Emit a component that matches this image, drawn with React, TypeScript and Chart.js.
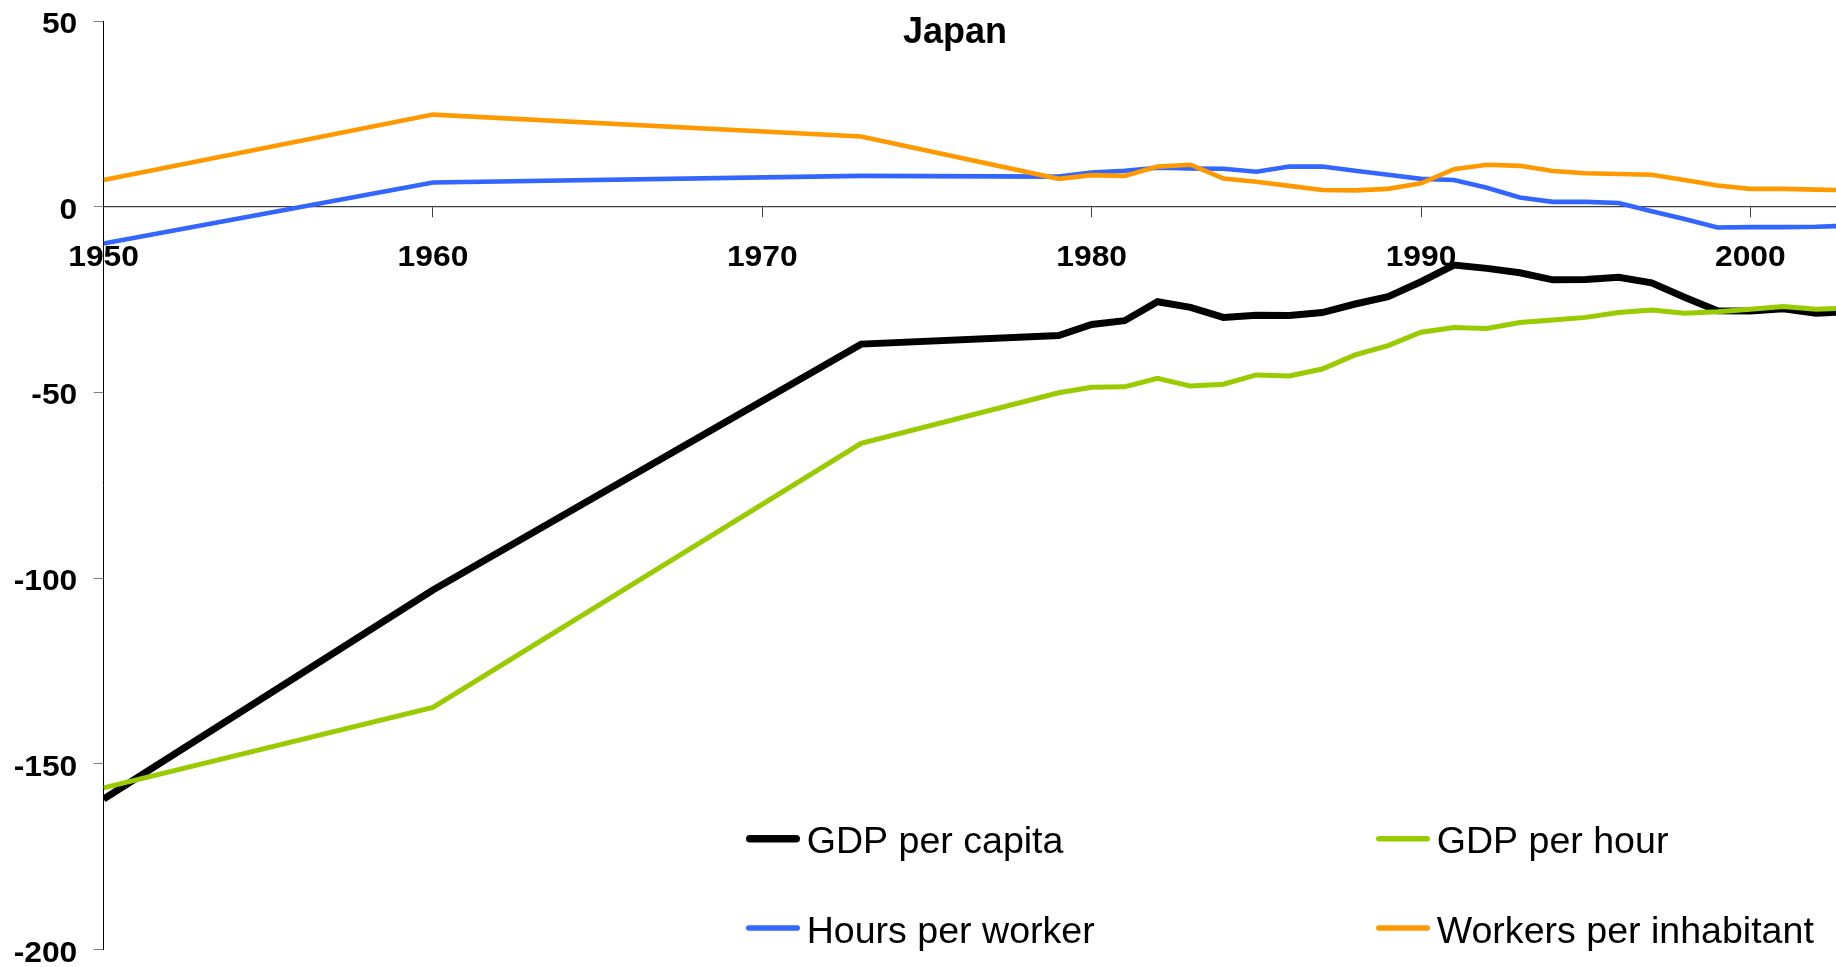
import React, { useEffect, useRef } from "react";
import { Chart, registerables } from "chart.js";

Chart.register(...registerables);

const TITLE = "Japan";

const years = [
  1950, 1960, 1973, 1979, 1980, 1981, 1982, 1983, 1984, 1985, 1986, 1987, 1988, 1989,
  1990, 1991, 1992, 1993, 1994, 1995, 1996, 1997, 1998, 1999, 2000, 2001, 2002, 2003,
];

const gdpPerCapita = [
  -159.5, -103.2, -37.0, -34.7, -31.7, -30.7, -25.6, -27.1, -29.8, -29.2, -29.3, -28.5, -26.2, -24.2,
  -20.2, -15.7, -16.6, -17.8, -19.7, -19.6, -19.0, -20.5, -24.4, -28.0, -28.1, -27.5, -28.7, -28.2,
];

const gdpPerHour = [
  -156.5, -134.8, -63.7, -50.1, -48.6, -48.5, -46.2, -48.3, -47.8, -45.3, -45.6, -43.7, -39.9, -37.4,
  -33.8, -32.5, -32.8, -31.2, -30.5, -29.8, -28.5, -27.8, -28.7, -28.3, -27.6, -26.9, -27.6, -27.3,
];

const hoursPerWorker = [
  -9.9, 6.5, 8.3, 8.1, 9.2, 9.7, 10.5, 10.3, 10.2, 9.4, 10.8, 10.8, 9.7, 8.6,
  7.5, 7.2, 5.1, 2.5, 1.3, 1.3, 1.0, -1.2, -3.3, -5.6, -5.5, -5.5, -5.4, -5.1,
];

const workersPerInhabitant = [
  7.2, 24.8, 18.9, 7.5, 8.5, 8.3, 10.8, 11.3, 7.6, 6.7, 5.6, 4.5, 4.4, 4.8,
  6.3, 10.1, 11.3, 11.0, 9.6, 9.0, 8.8, 8.6, 7.2, 5.7, 4.8, 4.8, 4.6, 4.4,
];

const seriesLabels = ["GDP per capita", "GDP per hour", "Hours per worker", "Workers per inhabitant"];
const seriesColors = ["#000000", "#99CC00", "#3366FF", "#FF9900"];
const seriesWidths = [7, 5, 4.6, 4.6];
const legendMarkerWidths = [7.5, 5.5, 5.5, 5.5];

const xTickYears = [1950, 1960, 1970, 1980, 1990, 2000];
const yTickValues = [50, 0, -50, -100, -150, -200];

const FONT = '"Liberation Sans", Arial, Helvetica, sans-serif';

function stretchedText(ctx: any, text: string, x: number, y: number, sx: number, align: string) {
  ctx.save();
  ctx.translate(x, y);
  ctx.scale(sx, 1);
  ctx.textAlign = align;
  ctx.fillText(text, 0, 0);
  ctx.restore();
}

const overlayPlugin = {
  id: "overlay",
  afterDraw(chart: any) {
    const ctx = chart.ctx;
    const xs = chart.scales.x;
    const ys = chart.scales.y;
    ctx.save();
    ctx.fillStyle = "#000";
    ctx.textBaseline = "alphabetic";

    // title
    ctx.font = `bold 36px ${FONT}`;
    stretchedText(ctx, TITLE, 955, 42.5, 1.0, "center");

    // tick labels
    ctx.font = `bold 30px ${FONT}`;
    const zeroY = ys.getPixelForValue(0);
    xTickYears.forEach((yr) => {
      stretchedText(ctx, String(yr), xs.getPixelForValue(yr), zeroY + 59.5, 1.06, "center");
    });
    yTickValues.forEach((v) => {
      stretchedText(ctx, String(v), 77.3, ys.getPixelForValue(v) + 12, 1.06, "right");
    });

    // legend
    const cols = [747, 1377];
    const rows = [853.3, 942.7];
    ctx.font = `37px ${FONT}`;
    chart.data.datasets.forEach((ds: any, i: number) => {
      const cx = cols[i % 2];
      const by = rows[Math.floor(i / 2)];
      const my = by - 14.6;
      const lw = legendMarkerWidths[i];
      ctx.beginPath();
      ctx.lineCap = "round";
      ctx.strokeStyle = ds.borderColor;
      ctx.lineWidth = lw;
      ctx.moveTo(cx - 1 + lw / 2, my);
      ctx.lineTo(cx + 53 - lw / 2, my);
      ctx.stroke();
      ctx.fillStyle = "#000";
      stretchedText(ctx, ds.label, cx + 59.7, by, 1.015, "left");
    });
    ctx.restore();
  },
};

export default function App() {
  const canvasRef = useRef<HTMLCanvasElement | null>(null);

  useEffect(() => {
    if (!canvasRef.current) return;
    const allSeries = [gdpPerCapita, gdpPerHour, hoursPerWorker, workersPerInhabitant];
    const datasets = allSeries.map((vals, i) => ({
      label: seriesLabels[i],
      data: years.map((y, j) => ({ x: y, y: vals[j] })),
      borderColor: seriesColors[i],
      backgroundColor: seriesColors[i],
      borderWidth: seriesWidths[i],
      borderJoinStyle: "miter" as const,
      pointRadius: 0,
      tension: 0,
      fill: false,
      order: 4 - i,
    }));

    const chart = new Chart(canvasRef.current, {
      type: "line",
      data: { datasets },
      options: {
        animation: false,
        responsive: false,
        maintainAspectRatio: false,
        layout: { padding: { top: 21, bottom: 17.5, left: 0, right: 0 } },
        plugins: {
          legend: { display: false },
          title: { display: false },
          tooltip: { enabled: false },
        },
        scales: {
          x: {
            type: "linear",
            position: { y: 0 } as any,
            min: 1950,
            max: 2002.6,
            afterBuildTicks: (scale: any) => {
              scale.ticks = xTickYears.map((v) => ({ value: v }));
            },
            ticks: { display: false },
            grid: {
              drawOnChartArea: false,
              drawTicks: true,
              tickLength: 10,
              tickColor: "#404040",
              tickWidth: 1,
            },
            border: { display: true, color: "#404040", width: 1.2 },
          },
          y: {
            type: "linear",
            position: "left",
            min: -200,
            max: 50,
            afterBuildTicks: (scale: any) => {
              scale.ticks = yTickValues.map((v) => ({ value: v }));
            },
            afterFit: (scale: any) => {
              scale.width = 103.6;
              scale.paddingTop = 0;
              scale.paddingBottom = 0;
            },
            ticks: { display: false },
            grid: {
              drawOnChartArea: false,
              drawTicks: true,
              tickLength: 10,
              tickColor: "#808080",
            },
            border: { display: true, color: "#000", width: 1 },
          },
        },
      },
      plugins: [overlayPlugin],
    });

    return () => chart.destroy();
  }, []);

  return (
    <div style={{ position: "fixed", left: 0, top: 0, width: 1836, height: 967, background: "#fff" }}>
      <canvas ref={canvasRef} width={1836} height={967} style={{ display: "block" }} />
    </div>
  );
}
